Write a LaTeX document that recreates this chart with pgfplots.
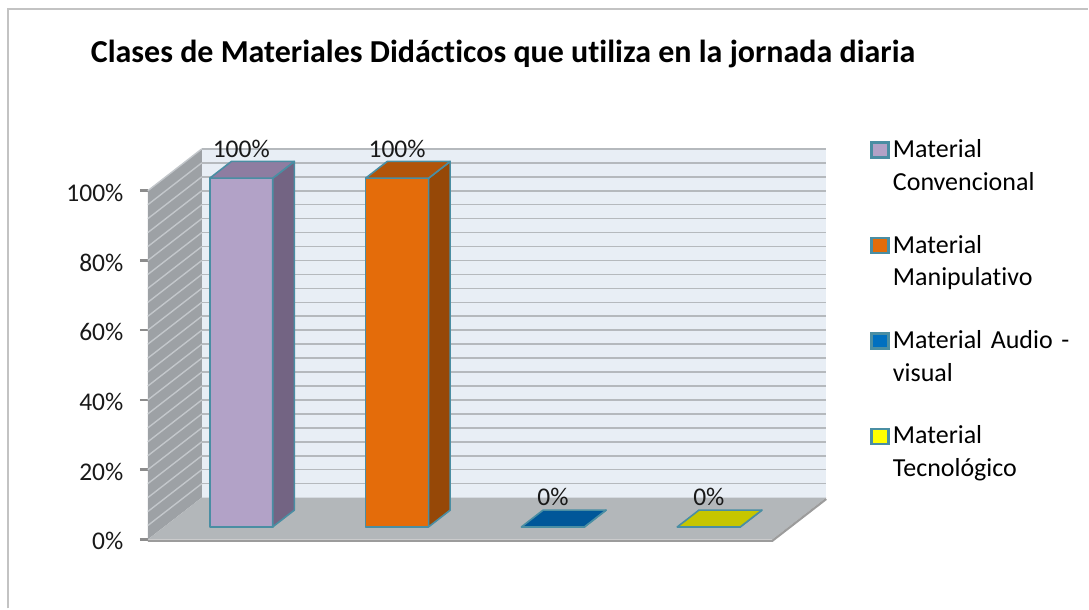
\documentclass[border=0pt]{standalone}
\usepackage{pgfplots}
\pgfplotsset{compat=1.18}
\usepackage{pgfplotstable}
\usepackage{fontspec}
\setmainfont{Carlito}[Ligatures=NoCommon]

\definecolor{wallback}{HTML}{E8EEF5}
\definecolor{gridc}{HTML}{B5B9BD}
\definecolor{leftwall}{HTML}{9DA1A5}
\definecolor{leftgrid}{HTML}{C3C7CB}
\definecolor{floorc}{HTML}{B3B7BA}
\definecolor{flooredge}{HTML}{9C9C9C}
\definecolor{edge}{HTML}{4A8EA3}
\definecolor{purF}{HTML}{B2A2C7}
\definecolor{purT}{HTML}{8E7DA1}
\definecolor{purS}{HTML}{736483}
\definecolor{oraF}{HTML}{E46C0A}
\definecolor{oraT}{HTML}{B1540A}
\definecolor{oraS}{HTML}{964807}
\definecolor{bluF}{HTML}{0070C0}
\definecolor{bluT}{HTML}{005799}
\definecolor{yelF}{HTML}{FFFF00}
\definecolor{yelT}{HTML}{C6C600}
\definecolor{tickgray}{HTML}{8C8C8C}
\definecolor{framegray}{HTML}{C3C3C3}

% front-plane centre of each category (x), value in percent (v)
\pgfplotstableread{
x v
225.3 100
381.3 100
537.3 0
693.3 0
}\data

% oblique 3D bar: #1 front-plane centre, #2 value, #3 front, #4 top, #5 side
\newcommand\barthreed[5]{%
  \pgfmathsetmacro\xa{#1-31.5+16.2}%
  \pgfmathsetmacro\xb{#1+31.5+16.2}%
  \pgfmathsetmacro\xc{#1+31.5+37.8}%
  \pgfmathsetmacro\xd{#1-31.5+37.8}%
  \pgfmathsetmacro\ya{3.6}%
  \pgfmathsetmacro\yb{#2+3.6}%
  \pgfmathsetmacro\yc{#2+8.4}%
  \pgfmathsetmacro\ye{8.4}%
  \addplot[forget plot, fill=#3, draw=edge, line width=1.6bp, line join=round] coordinates {(\xa,\ya) (\xb,\ya) (\xb,\yb) (\xa,\yb)} -- cycle;
  \addplot[forget plot, fill=#5, draw=edge, line width=1.6bp, line join=round] coordinates {(\xb,\ya) (\xc,\ye) (\xc,\yc) (\xb,\yb)} -- cycle;
  \addplot[forget plot, fill=#4, draw=edge, line width=1.6bp, line join=round] coordinates {(\xa,\yb) (\xb,\yb) (\xc,\yc) (\xd,\yc)} -- cycle;
}

\begin{document}
\begin{tikzpicture}
\begin{axis}[
  x=1bp, y=3.49bp,
  xmin=148, xmax=827, ymin=0, ymax=100,
  clip=false,
  axis line style={draw=none},
  xtick=\empty,
  ytick={0,20,...,100},
  ytick pos=left,
  tick align=outside,
  major tick length=8bp,
  ytick style={draw=tickgray, line width=2.5bp},
  /pgf/number format/assume math mode=true,
  yticklabel={\pgfmathprintnumber{\tick}\%},
  yticklabel style={font=\fontsize{25.5bp}{30bp}\selectfont, text=black!90, xshift=-13bp, yshift=-2bp},
  title={Clases de Materiales Didácticos que utiliza en la jornada diaria},
  title style={at={(axis description cs:0.5236,1.352)}, anchor=base,
    font=\bfseries\fontsize{32bp}{38bp}\selectfont},
  legend style={at={(axis description cs:1.0648,1.156)}, anchor=north west,
    draw=none, fill=none, inner sep=0pt,
    font=\fontsize{26bp}{33bp}\selectfont,
    row sep=70bp, /tikz/column sep=0bp,
    cells={anchor=base west},
    nodes={text width=185bp, align=left, inner sep=3bp}},
  legend image code/.code={\draw[line width=2.6bp] (0bp,0bp) rectangle (17bp,15bp);},
]
% outer frame and page extent
\addplot[forget plot, draw=none] coordinates {(0,-19.77) (1089,154.7)};
\addplot[forget plot, draw=framegray, line width=2bp] coordinates {(8,-19.77) (8,152.15) (1089,152.15)};

% walls and floor
\addplot[forget plot, fill=wallback, draw=none] coordinates {(202,12) (827,12) (827,112) (202,112)} -- cycle;
\addplot[forget plot, fill=leftwall, draw=none] coordinates {(148,0) (148,100) (202,112) (202,12)} -- cycle;
\pgfplotsforeachungrouped \v in {4,8,...,100}{%
  \pgfmathsetmacro\vb{\v+12}%
  \addplot[forget plot, draw=gridc, line width=1.6bp] coordinates {(202,\vb) (827,\vb)};
  \addplot[forget plot, draw=leftgrid, line width=1.4bp] coordinates {(148,\v) (202,\vb)};
}
\addplot[forget plot, fill=floorc, draw=none] coordinates {(148,0) (773,0) (827,12) (202,12)} -- cycle;
\addplot[forget plot, draw=flooredge, line width=2.2bp] coordinates {(148,-0.4) (773,-0.4) (827,11.6)};

% bars
\barthreed{225.3}{100}{purF}{purT}{purS}
\barthreed{381.3}{100}{oraF}{oraT}{oraS}
\barthreed{537.3}{0}{bluF}{bluT}{bluT}
\barthreed{693.3}{0}{yelF}{yelT}{yelT}

% data labels
\addplot[forget plot, draw=none, mark=none, point meta=explicit,
  nodes near coords={\pgfmathprintnumber{\pgfplotspointmeta}\%},
  every node near coord/.append style={anchor=base, yshift=33.5bp, inner sep=0pt,
    font=\fontsize{25.5bp}{30bp}\selectfont, text=black!90}]
  table[x expr=\thisrow{x}+16.2, y=v, meta=v] {\data};

% legend
\addlegendimage{fill=purF, draw=edge}
\addlegendentry{Material\\Convencional}
\addlegendimage{fill=oraF, draw=edge}
\addlegendentry{Material\\Manipulativo}
\addlegendimage{fill=bluF, draw=edge}
\addlegendentry{Material Audio -\\visual}
\addlegendimage{fill=yelF, draw=edge}
\addlegendentry{Material\\Tecnológico}
\end{axis}
\end{tikzpicture}
\end{document}
